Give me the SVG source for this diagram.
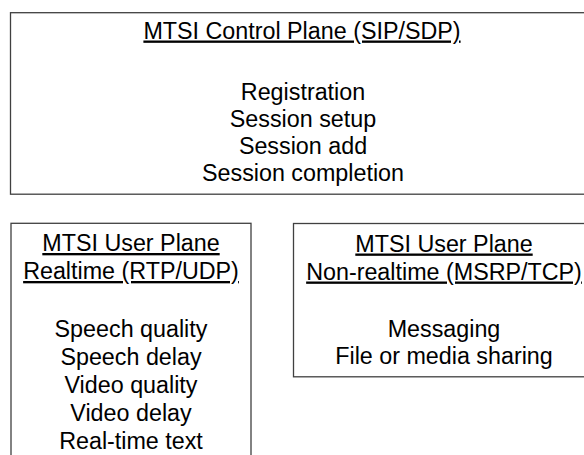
<svg xmlns="http://www.w3.org/2000/svg" width="584" height="455" viewBox="0 0 584 455">
<style>
.box{fill:#fff;stroke:#404040;stroke-width:1.3}
text{font-family:"Liberation Sans",Arial,sans-serif;font-size:23.3px;fill:#000;text-anchor:middle}
.h{text-decoration:underline}
</style>
<rect width="584" height="455" fill="#fff"/>
<g id="control-plane">
<rect class="box" x="10.5" y="12.7" width="600" height="181.5"/>
<text class="h" x="302" y="38.5">MTSI Control Plane (SIP/SDP)</text>
<text x="303" y="99.5">Registration</text>
<text x="303" y="126.7">Session setup</text>
<text x="303" y="153.7">Session add</text>
<text x="303" y="181">Session completion</text>
</g>
<g id="user-plane-realtime">
<rect class="box" x="11" y="223.3" width="240" height="250"/>
<text class="h" x="131" y="251">MTSI User Plane</text>
<text class="h" x="131" y="279">Realtime (RTP/UDP)</text>
<text x="131" y="336.7">Speech quality</text>
<text x="131" y="364.5">Speech delay</text>
<text x="131" y="392.7">Video quality</text>
<text x="131" y="421">Video delay</text>
<text x="131" y="449.3">Real-time text</text>
</g>
<g id="user-plane-nonrealtime">
<rect class="box" x="293.5" y="223.5" width="320" height="153.3"/>
<text class="h" x="444" y="251.5">MTSI User Plane</text>
<text class="h" x="444" y="279.5">Non-realtime (MSRP/TCP)</text>
<text x="444" y="337">Messaging</text>
<text x="444" y="364">File or media sharing</text>
</g>
<g id="connectors"/>
</svg>
